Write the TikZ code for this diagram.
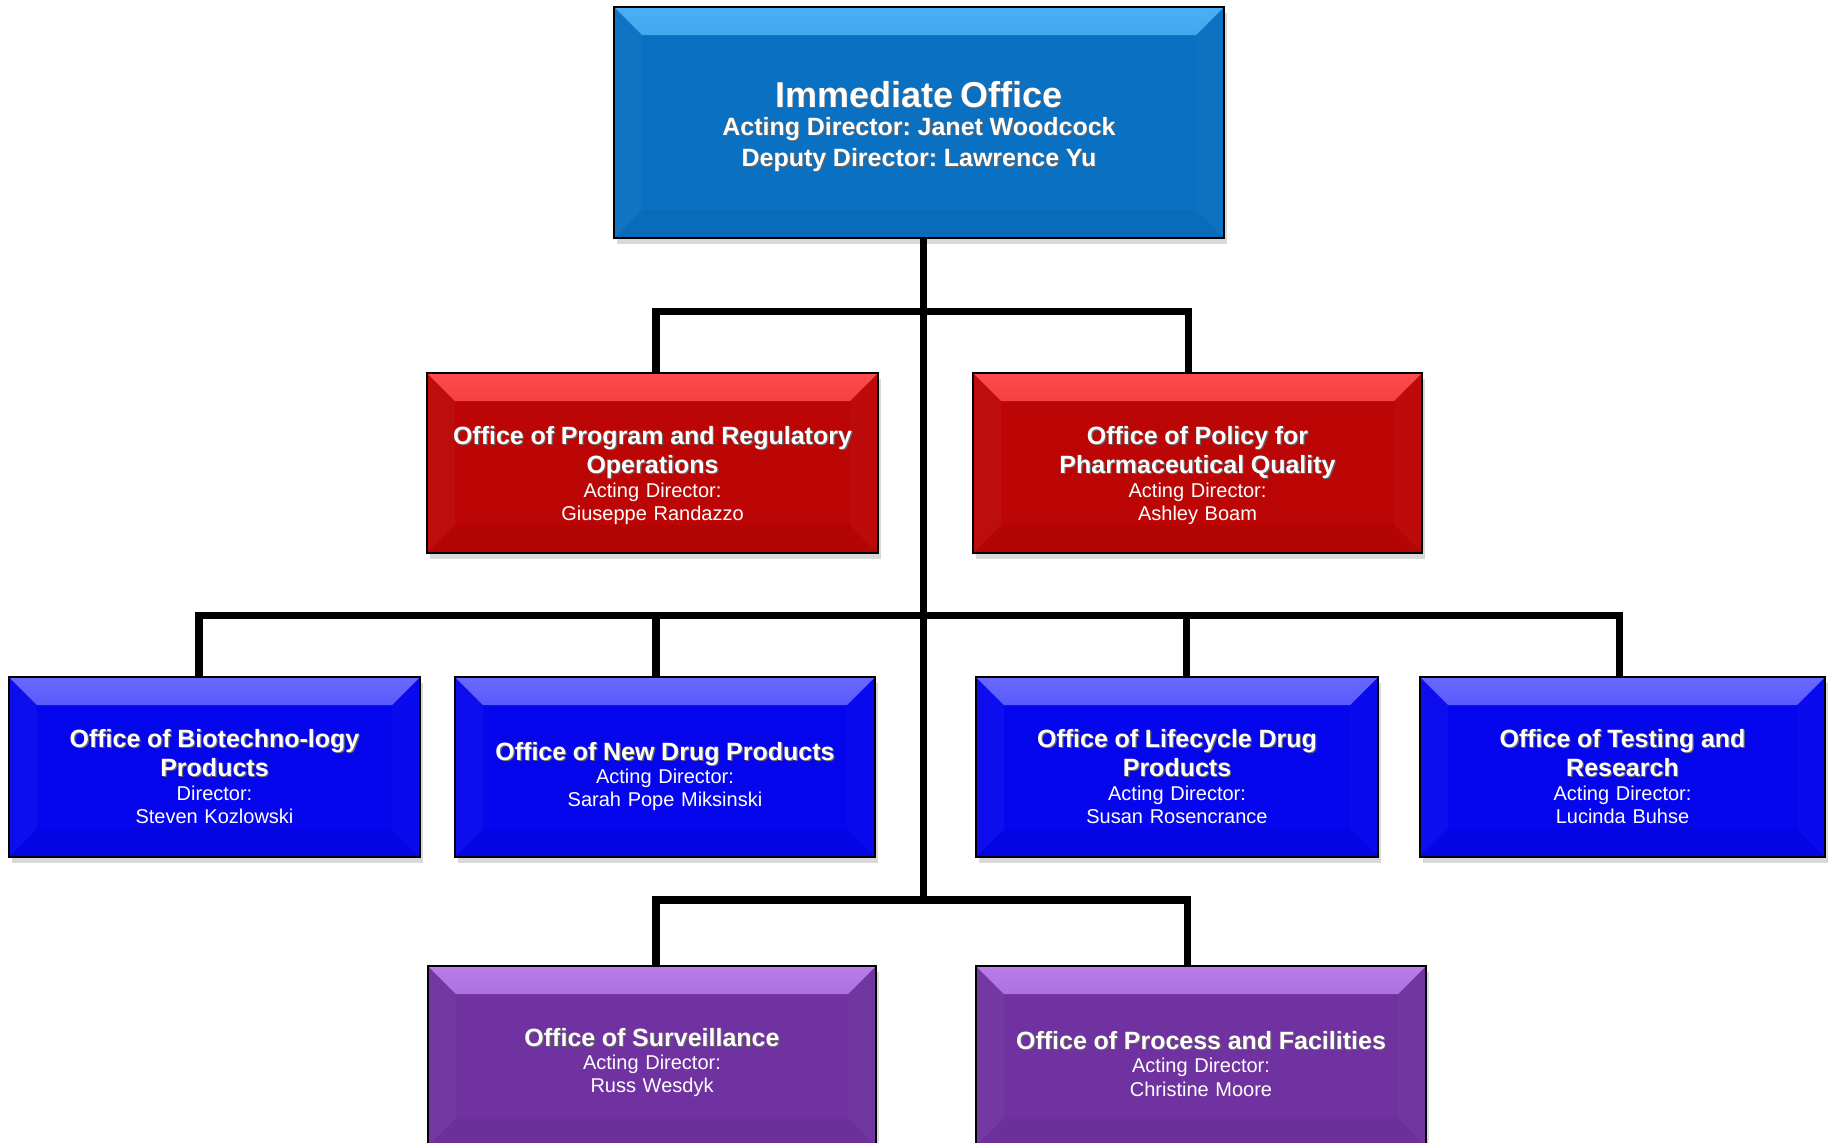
\documentclass[tikz,border=0pt]{standalone}
\usepackage{fontspec}
\setmainfont{Liberation Sans}
\usetikzlibrary{positioning}
\usetikzlibrary{shadows}

\definecolor{immblue}{RGB}{10,112,194}
\definecolor{immlight}{RGB}{75,175,245}
\definecolor{oprred}{RGB}{188,6,6}
\definecolor{oprlight}{RGB}{255,75,75}
\definecolor{prodblue}{RGB}{6,6,238}
\definecolor{prodlight}{RGB}{105,105,255}
\definecolor{survpurple}{RGB}{112,50,160}
\definecolor{survlight}{RGB}{185,125,235}

% bold heading with a small dark shadow
\newcommand{\shadowed}[1]{\leavevmode\rlap{\raisebox{-0.6pt}[0pt][0pt]{\hspace{0.6pt}\textcolor{black!60}{#1}}}#1}
% heading lines; the strut pushes the whole text block down a little
\newcommand{\officetitle}[2][9.5pt]{{\fontsize{12.5}{14.6}\selectfont\bfseries\rule{0pt}{\dimexpr 9pt+#1\relax}#2\par}}

\tikzset{
  % raised box: light top edge, darker bottom edge
  bevel/.style 2 args={
    fill=#1,
    path picture={
      \fill[top color=#2, bottom color=#1]
        (path picture bounding box.north west) -- (path picture bounding box.north east)
        -- ([shift={(-14pt,-14pt)}]path picture bounding box.north east)
        -- ([shift={(14pt,-14pt)}]path picture bounding box.north west) -- cycle;
      \fill[white, opacity=0.03]
        (path picture bounding box.north west) -- ([shift={(14pt,-14pt)}]path picture bounding box.north west)
        -- ([shift={(14pt,14pt)}]path picture bounding box.south west) -- (path picture bounding box.south west) -- cycle;
      \fill[white, opacity=0.02]
        (path picture bounding box.north east) -- ([shift={(-14pt,-14pt)}]path picture bounding box.north east)
        -- ([shift={(-14pt,14pt)}]path picture bounding box.south east) -- (path picture bounding box.south east) -- cycle;
      \fill[black, opacity=0.04]
        (path picture bounding box.south west) -- (path picture bounding box.south east)
        -- ([shift={(-14pt,14pt)}]path picture bounding box.south east)
        -- ([shift={(14pt,14pt)}]path picture bounding box.south west) -- cycle;
    }
  },
  office/.style={draw=black, line width=1.3pt, text=white, align=center, inner sep=0pt, outer sep=0pt,
    font=\frenchspacing\fontsize{10}{11.7}\selectfont,
    drop shadow={shadow xshift=1.5pt, shadow yshift=-3pt, opacity=0.3}},
  link/.style={line width=3.7pt, black}
}

\begin{document}
\begin{tikzpicture}[node distance=2cm]

    \useasboundingbox (0,0) rectangle (915.5pt,-571pt);

    \node(imm)[office, bevel={immblue}{immlight}, text width=305pt, minimum height=115.5pt] at (459.5pt,-61.25pt)
      {{\fontsize{18}{18}\selectfont\bfseries\rule{0pt}{17pt}\shadowed{Immediate Office}\par}\vspace{-1.75pt}
       {\fontsize{12.5}{15.5}\selectfont\bfseries \shadowed{Acting Director: Janet Woodcock}\\ \shadowed{Deputy Director: Lawrence Yu}\par}};

    \node(opro)[office, bevel={oprred}{oprlight}, text width=225.5pt, minimum height=90pt, below left=67.5pt and 20.5pt of imm.south]
      {\officetitle[12.5pt]{\shadowed{Office of Program and Regulatory}\\ \shadowed{Operations}} Acting Director:\\ Giuseppe Randazzo};
    \node(opq)[office, bevel={oprred}{oprlight}, text width=224.5pt, minimum height=90pt, below right=67.5pt and 27pt of imm.south]
      {\officetitle[12.5pt]{\shadowed{Office of Policy for}\\ \shadowed{Pharmaceutical Quality}} Acting Director:\\ Ashley Boam};

    \node(ondp)[office, bevel={prodblue}{prodlight}, text width=210pt, minimum height=90pt, below right=62pt and 14pt of opro.south west]
      {\officetitle{\shadowed{Office of New Drug Products}} Acting Director:\\ Sarah Pope Miksinski};
    \node(obp)[office, bevel={prodblue}{prodlight}, text width=205.5pt, minimum height=90pt, left=17.5pt of ondp]
      {\officetitle{\shadowed{Office of Biotechno-logy}\\ \shadowed{Products}} Director:\\ Steven Kozlowski};
    \node(oldp)[office, bevel={prodblue}{prodlight}, text width=201pt, minimum height=90pt, below right=62pt and 1.5pt of opq.south west]
      {\officetitle{\shadowed{Office of Lifecycle Drug}\\ \shadowed{Products}} Acting Director:\\ Susan Rosencrance};
    \node(otr)[office, bevel={prodblue}{prodlight}, text width=202.5pt, minimum height=90pt, right=21pt of oldp]
      {\officetitle{\shadowed{Office of Testing and}\\ \shadowed{Research}} Acting Director:\\ Lucinda Buhse};

    \node(osurv)[office, bevel={survpurple}{survlight}, text width=224pt, minimum height=90pt, below right=54.5pt and -13.5pt of ondp.south west]
      {\officetitle[6.5pt]{\shadowed{Office of Surveillance}} Acting Director:\\ Russ Wesdyk};
    \node(opf)[office, bevel={survpurple}{survlight}, text width=225pt, minimum height=90pt, below right=54.5pt and 0pt of oldp.south west]
      {\officetitle[8pt]{\shadowed{Office of Process and Facilities}} Acting Director:\\ Christine Moore};

    % trunk and the three buses
    \draw[link] ([xshift=2.25pt]imm.south) -- ++(0,-331pt);
    \draw[link] ([xshift=1.75pt]opro.north) -- ++(0,30.75pt) -| ([xshift=-4.4pt]opq.north);
    \draw[link] ([xshift=-7.75pt]obp.north) -- ++(0,30.75pt) -| ([xshift=-1.45pt]otr.north);
    \draw[link] ([xshift=-4.5pt]ondp.north) -- ++(0,30.75pt);
    \draw[link] ([xshift=4.7pt]oldp.north) -- ++(0,30.75pt);
    \draw[link] ([xshift=2pt]osurv.north) -- ++(0,33pt) -| ([xshift=-6.7pt]opf.north);

\end{tikzpicture}
\end{document}
